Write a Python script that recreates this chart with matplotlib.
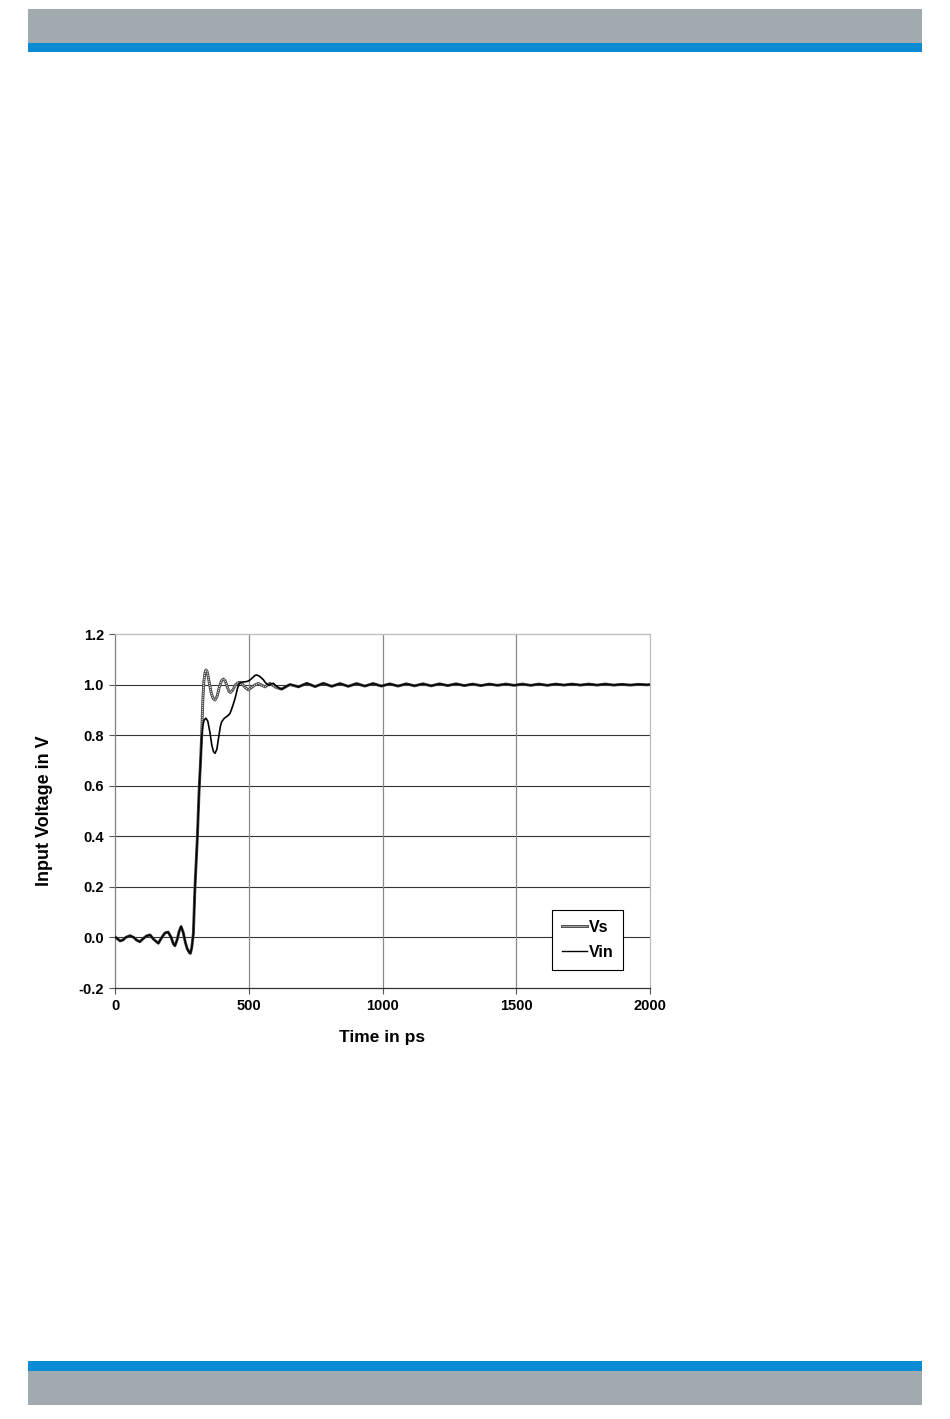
import matplotlib
matplotlib.use("Agg")
import matplotlib.pyplot as plt
from matplotlib.patches import Rectangle
from matplotlib.lines import Line2D
from matplotlib.legend_handler import HandlerTuple

plt.rcParams["font.family"] = ["Liberation Sans", "DejaVu Sans"]
plt.rcParams["font.weight"] = "bold"
plt.rcParams["axes.unicode_minus"] = False

# shared start (both traces coincide up to ~320 ps)
t_start = [0, 10, 19, 30, 40, 56, 70, 80, 93, 105, 118, 131, 145, 162, 175, 187, 199,
           210, 218, 224, 232, 240, 247, 255, 263, 270, 278, 282, 287, 293, 299, 308, 314, 320]
v_start = [0.002, -0.006, -0.014, -0.010, 0.0, 0.007, 0.0, -0.010, -0.017, -0.005, 0.006, 0.010,
           -0.008, -0.023, 0.0, 0.018, 0.021, 0.0, -0.025, -0.033, -0.010, 0.025, 0.043, 0.020,
           -0.020, -0.045, -0.060, -0.063, -0.040, 0.016, 0.200, 0.398, 0.570, 0.702]

# Vs overshoot section
t_vs_mid = [324, 328, 332, 336, 340, 345, 352, 360, 367, 374, 382, 390, 398, 405, 412, 420,
            426, 432, 440, 450, 458, 467, 475, 485, 498, 510, 522, 536, 548, 561, 570, 579,
            600, 623, 654]
v_vs_mid = [0.80, 0.93, 1.01, 1.045, 1.058, 1.05, 1.01, 0.965, 0.945, 0.939, 0.955, 0.99,
            1.015, 1.022, 1.015, 0.99, 0.973, 0.969, 0.978, 0.998, 1.006, 1.009, 1.004, 0.99,
            0.979, 0.988, 0.998, 1.004, 0.998, 0.991, 0.998, 1.005, 0.990, 0.982, 1.000]

# Vin section
t_vin_mid = [324, 328, 333, 340, 347, 355, 362, 368, 374, 381, 388, 394, 399, 408, 417, 424,
             430, 440, 449, 458, 465, 475, 486, 496, 505, 515, 523, 530, 540, 548, 554, 562,
             573, 582, 592, 605, 617, 623, 654]
v_vin_mid = [0.79, 0.835, 0.86, 0.867, 0.855, 0.81, 0.76, 0.735, 0.728, 0.745, 0.795, 0.835,
             0.853, 0.866, 0.873, 0.879, 0.886, 0.915, 0.946, 0.985, 1.005, 1.010, 1.011, 1.013,
             1.018, 1.028, 1.036, 1.038, 1.033, 1.026, 1.020, 1.008, 0.998, 1.002, 1.005, 0.992,
             0.984, 0.982, 1.001]

# shared settling ripple
t_tail = [686, 717, 748, 779, 810, 841, 872, 903, 934, 965, 996, 1027, 1058, 1089, 1120, 1151,
          1182, 1213, 1244, 1275, 1306, 1337, 1368, 1399, 1430, 1461, 1492, 1523, 1554, 1585,
          1616, 1647, 1678, 1709, 1740, 1771, 1802, 1833, 1864, 1895, 1926, 1957, 1988, 2000]
v_tail = [0.991, 1.005, 0.992, 1.005, 0.993, 1.004, 0.993, 1.004, 0.994, 1.004, 0.994, 1.003,
          0.994, 1.003, 0.995, 1.003, 0.995, 1.003, 0.996, 1.003, 0.996, 1.002, 0.996, 1.002,
          0.997, 1.002, 0.997, 1.002, 0.997, 1.002, 0.997, 1.002, 0.998, 1.002, 0.998, 1.002,
          0.998, 1.002, 0.998, 1.001, 0.998, 1.001, 0.999, 1.000]

t_vs = t_start + t_vs_mid + t_tail
vs = v_start + v_vs_mid + v_tail
t_vin = t_start + t_vin_mid + t_tail
vin = v_start + v_vin_mid + v_tail

W, H = 950, 1419
fig = plt.figure(figsize=(W / 100, H / 100), dpi=100)

# page header / footer bars
gray = "#a1abaf"
blue = "#0a8bd3"
def band(y0, y1, color):
    fig.add_artist(Rectangle((28 / W, 1 - y1 / H), (922 - 28) / W, (y1 - y0) / H,
                             transform=fig.transFigure, facecolor=color, edgecolor="none"))
band(9, 43, gray)
band(43, 52, blue)
band(1361, 1371, blue)
band(1371, 1405, gray)

ax = fig.add_axes([115 / W, 1 - 988 / H, 535 / W, 354 / H])

vs_dots = (0, (0.8, 1.0))
ax.plot(t_vs, vs, color="#4a4a4a", lw=2.1, solid_joinstyle="round", zorder=3)
ax.plot(t_vs, vs, color="white", lw=0.8, ls=vs_dots, zorder=3)
ax.plot(t_vin, vin, color="black", lw=1.2, zorder=4)

ax.set_xlim(0, 2000)
ax.set_ylim(-0.2, 1.2)
ax.set_xticks([0, 500, 1000, 1500, 2000])
ax.set_yticks([-0.2, 0.0, 0.2, 0.4, 0.6, 0.8, 1.0, 1.2])
ax.set_yticklabels(["%.1f" % v for v in ax.get_yticks()])
ax.tick_params(labelsize=10.5, length=4, width=0.8, color="#555555", pad=4)
for lab in ax.get_xticklabels() + ax.get_yticklabels():
    lab.set_fontweight("bold")

for v in [0.0, 0.2, 0.4, 0.6, 0.8, 1.0]:
    ax.axhline(v, color="#333333", lw=0.8, zorder=1)
for v in [500, 1000, 1500]:
    ax.axvline(v, color="#8a8a8a", lw=0.9, zorder=1)

ax.spines["left"].set_color("#808080")
ax.spines["bottom"].set_color("#333333")
ax.spines["top"].set_color("#bbbbbb")
ax.spines["right"].set_color("#bbbbbb")
for s in ax.spines.values():
    s.set_linewidth(0.9)

ax.set_xlabel("Time in ps", fontsize=12.5, fontweight="bold", labelpad=12)
ax.set_ylabel("Input Voltage in V", fontsize=13, fontweight="bold", labelpad=18)

h_vs = (Line2D([], [], color="#4a4a4a", lw=2.1), Line2D([], [], color="white", lw=0.8, ls=vs_dots))
h_vin = Line2D([], [], color="black", lw=1.0)
leg = ax.legend([h_vs, h_vin], ["Vs", "Vin"], handler_map={tuple: HandlerTuple(ndivide=1, pad=0)},
                loc="upper left", bbox_to_anchor=(552 / W, 1 - 910 / H), bbox_transform=fig.transFigure,
                borderaxespad=0, fancybox=False, framealpha=1, edgecolor="black",
                prop={"size": 11.5, "weight": "bold"}, handlelength=1.6, handletextpad=0.1,
                labelspacing=0.65, borderpad=0.6)
leg.get_frame().set_linewidth(0.8)

fig.savefig("out.png", dpi=100, facecolor="white")
